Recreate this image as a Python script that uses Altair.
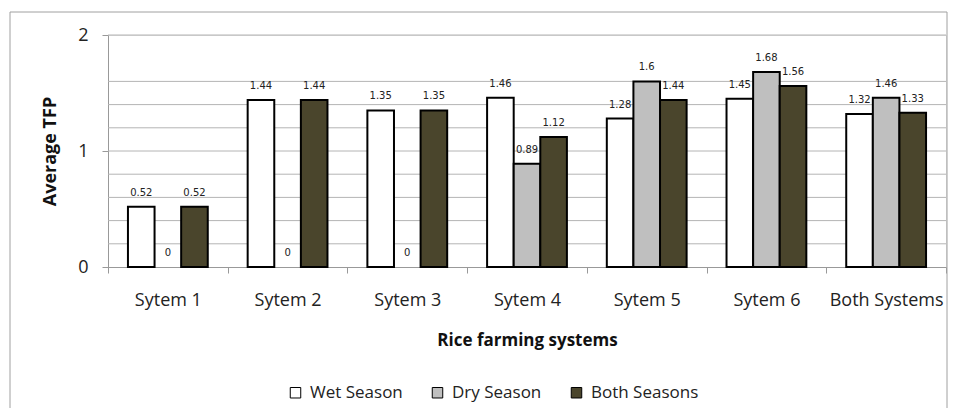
import altair as alt
import pandas as pd

categories = ["Sytem 1", "Sytem 2", "Sytem 3", "Sytem 4", "Sytem 5", "Sytem 6", "Both Systems"]
series = ["Wet Season", "Dry Season", "Both Seasons"]
wet = [0.52, 1.44, 1.35, 1.46, 1.28, 1.45, 1.32]
dry = [0, 0, 0, 0.89, 1.6, 1.68, 1.46]
both = [0.52, 1.44, 1.35, 1.12, 1.44, 1.56, 1.33]
grid_values = [0.2, 0.4, 0.6, 0.8, 1.0, 1.2, 1.4, 1.6, 2.0]
y_tick_values = [0, 1, 2]
colors = ["#FFFFFF", "#BFBFBF", "#4A452C"]

rows = []
for s, vals in zip(series, [wet, dry, both]):
    for c, v in zip(categories, vals):
        rows.append({"system": c, "season": s, "tfp": v})
df = pd.DataFrame(rows)
grid_df = pd.DataFrame({"g": grid_values})
frame_df = pd.DataFrame({"f": [0]})

FONT = "Open Sans"

x_axis = alt.Axis(
    title="Rice farming systems",
    labelAngle=0,
    tickBand="extent",
    tickSize=6,
    tickColor="#999999",
    domainColor="#999999",
    labelFont=FONT,
    labelFontSize=18,
    labelColor="#222222",
    labelPadding=18,
    titleFont=FONT,
    titleFontSize=17,
    titleFontWeight="bold",
    titleColor="#111111",
    titlePadding=23,
    grid=False,
)
y_axis = alt.Axis(
    title="Average TFP",
    values=y_tick_values,
    format=".0f",
    labelOverlap=False,
    labelFlush=False,
    grid=False,
    tickSize=6,
    tickColor="#999999",
    domainColor="#999999",
    labelFont=FONT,
    labelFontSize=18,
    labelColor="#222222",
    labelPadding=14,
    titleFont=FONT,
    titleFontSize=18,
    titleFontWeight="bold",
    titleColor="#111111",
    titlePadding=18,
)

x_enc = alt.X(
    "system:N",
    sort=categories,
    scale=alt.Scale(paddingInner=0, paddingOuter=0),
    axis=x_axis,
)
xoff_enc = alt.XOffset(
    "season:N",
    sort=series,
    scale=alt.Scale(domain=series, paddingInner=0, paddingOuter=0.75),
)
y_scale = alt.Scale(domain=[0, 2], nice=False)

grid = alt.Chart(grid_df).mark_rule(color="#B4B4B4", strokeWidth=1).encode(
    y=alt.Y("g:Q", scale=y_scale, axis=y_axis)
)

bars = alt.Chart(df).transform_filter("datum.tfp > 0").mark_bar(
    stroke="#000000", strokeWidth=2
).encode(
    x=x_enc,
    xOffset=xoff_enc,
    y=alt.Y("tfp:Q", scale=y_scale, axis=y_axis),
    color=alt.Color(
        "season:N",
        sort=series,
        scale=alt.Scale(domain=series, range=colors),
        legend=alt.Legend(
            title=None,
            orient="none",
            legendX=179,
            legendY=349,
            direction="horizontal",
            symbolType="square",
            symbolSize=110,
            symbolStrokeColor="#000000",
            symbolStrokeWidth=1,
            labelFont=FONT,
            labelFontSize=17,
            labelColor="#222222",
            labelOffset=6,
            columnPadding=26,
        ),
    ),
)

labels = alt.Chart(df).mark_text(
    font="DejaVu Sans", fontSize=10, color="#222222", baseline="alphabetic", dy=-11
).encode(
    x=x_enc,
    xOffset=xoff_enc,
    y=alt.Y("tfp:Q", scale=y_scale, axis=y_axis),
    text=alt.Text("tfp:Q", format=".2~f"),
)

frame = alt.Chart(frame_df).mark_rect(
    fill="transparent", stroke="#A0A0A0", strokeWidth=1
).encode(
    x=alt.value(-98), x2=alt.value(839), y=alt.value(-23), y2=alt.value(380)
)

chart = alt.layer(grid, bars, labels, frame).properties(
    width=838,
    height=232,
    autosize=alt.AutoSizeParams(type="none"),
    padding={"left": 100, "top": 27, "right": 2, "bottom": 141},
).configure_view(strokeWidth=0).configure(background="#FFFFFF")

chart.save("out.html", embed_options={"renderer": "svg", "actions": False})
